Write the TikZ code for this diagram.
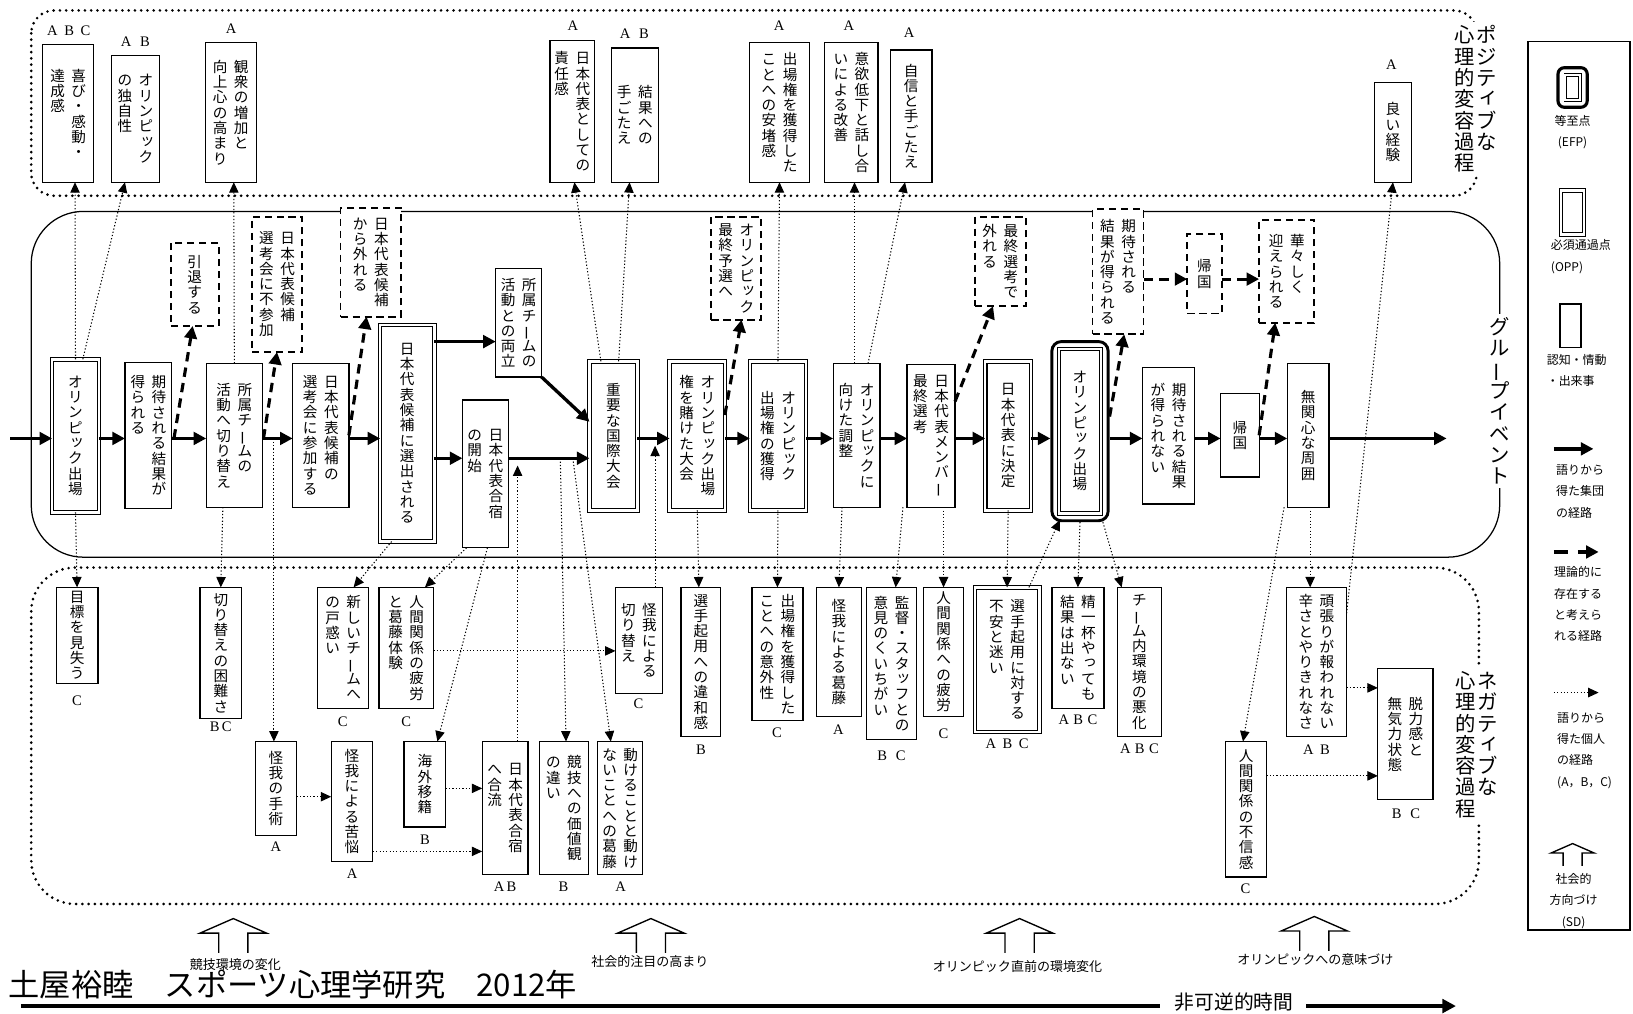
\documentclass[tikz,border=0pt]{standalone}
\usepackage{fontspec}
\usepackage{graphicx}
\setmainfont{Liberation Serif}
\newfontfamily\jp{Noto Sans CJK JP}
\usetikzlibrary{arrows.meta}
\ExplSyntaxOn
\seq_new:N \l_vj_cols_seq
\cs_new_protected:Npn \vj_small:n #1
  { \hbox_to_wd:nn {1em}{ \hss \kern0.2em \raisebox{0.14em}{#1} \hss } }
\cs_new_protected:Npn \vj_char:n #1
  {
    \str_case:nnF {#1}
      {
        {ー}{ \hbox_to_wd:nn {1em}{ \hss \rotatebox[origin=c]{90}{ー} \hss } }
        {ッ}{ \vj_small:n {#1} }
        {っ}{ \vj_small:n {#1} }
        {ャ}{ \vj_small:n {#1} }
        {ュ}{ \vj_small:n {#1} }
        {ョ}{ \vj_small:n {#1} }
        {ィ}{ \vj_small:n {#1} }
        {ゃ}{ \vj_small:n {#1} }
      }
      { \hbox_to_wd:nn {1em}{ \hss #1 \hss } }
  }
\cs_new_protected:Npn \vj_col:n #1
  {
    \vtop{ \baselineskip=1.05em \lineskiplimit=-100pt \lineskip=0pt
      \tl_map_inline:nn {#1}{ \vj_char:n {##1} } }
  }
\NewDocumentCommand \vt { O{0.45em} m }
  {
    \hbox:n
      {
        \jp
        \seq_set_split:Nnn \l_vj_cols_seq { \\ } {#2}
        \seq_reverse:N \l_vj_cols_seq
        \seq_map_indexed_inline:Nn \l_vj_cols_seq
          {
            \int_compare:nNnT {##1} > {1} { \skip_horizontal:n {#1} }
            \vj_col:n {##2}
          }
      }
  }
\ExplSyntaxOff
\newcommand\bx[7]{\node[#2, minimum width={(#5-#3)*1pt}, minimum height={(#6-#4)*1pt}] (#1) at ({(#3+#5)/2},{(#4+#6)/2}) {\vt{#7}};}
\tikzset{
  box/.style={draw, line width=1.2pt, fill=white, inner sep=0pt, outer sep=0pt, font=\fontsize{14}{18.5}\selectfont},
  opp/.style={box, double, double distance=2.4pt, line width=1pt},
  tbox/.style={box, dash pattern=on 7pt off 4.5pt, line width=1.8pt},
  efp/.style={draw, line width=2.8pt, rounded corners=9pt, inner sep=0pt, fill=white},
  grp/.style={line width=3.2pt, -{Triangle[length=12pt,width=12pt]}},
  thr/.style={line width=3pt, dash pattern=on 9pt off 6pt, -{Triangle[length=12pt,width=12pt]}},
  ind/.style={line width=1pt, dash pattern=on 1.2pt off 2pt, -{Triangle[length=10pt,width=9pt]}},
  region/.style={line width=2.8pt, dash pattern=on 0pt off 6pt, line cap=round},
  band/.style={line width=1.2pt},
  abc/.style={font=\fontsize{14}{15}\selectfont, inner sep=0pt},
  sidelab/.style={fill=white, inner sep=3pt, font=\fontsize{19.5}{21}\selectfont},
  sdlab/.style={font=\jp\fontsize{12.5}{14}\selectfont, inner sep=0pt},
  legtxt/.style={font=\jp\fontsize{11.5}{20.5}\selectfont, inner sep=0pt},
  sdicon/.pic={\draw[line width=1.3pt] (-14,33) -- (-14,14) -- (-32,14) -- (0,0) -- (32,14) -- (14,14) -- (14,33);},
}
\begin{document}
\begin{tikzpicture}[x=1pt,y=-1pt]
\useasboundingbox (0,0) rectangle (1568,973);
% ---------------- regions
\draw[region, rounded corners=22pt] (30,10) rectangle (1418,188);
\draw[band, rounded corners=50pt] (30,203) rectangle (1440,535);
\draw[region, rounded corners=42pt] (30,545) rectangle (1420,868);
\node[sidelab] (poslab) at (1417,95) {\vt[0.08em]{ポジティブな\\心理的変容過程}};
\node[sidelab] (grplab) at (1440,385) {\vt{グループイベント}};
\node[sidelab] (neglab) at (1418,715) {\vt[0.08em]{ネガティブな\\心理的変容過程}};
% ---------------- top (positive) boxes
\bx{T1}{box}{41}{43}{90}{175}{喜び・感動・\\達成感}
\bx{T2}{box}{107}{53}{153}{175}{オリンピック\\の独自性}
\bx{T3}{box}{197}{41}{246}{175}{観衆の増加と\\向上心の高まり}
\bx{T4}{box}{528}{39}{571}{175}{日本代表としての\\責任感}
\bx{T5}{box}{587}{46}{632}{175}{結果への\\手ごたえ}
\bx{T6}{box}{720}{41}{777}{175}{出場権を獲得した\\ことへの安堵感}
\bx{T7}{box}{792}{41}{843}{175}{意欲低下と話し合\\いによる改善}
\bx{T8}{box}{855}{48}{895}{175}{自信と手ごたえ}
\bx{T9}{box}{1320}{79}{1355}{175}{良い経験}
\node[abc] (T1l) at (66,30) {A\hspace{0.45em}B\hspace{0.45em}C};
\node[abc] (T2l) at (130,40) {A\hspace{0.6em}B};
\node[abc] (T3l) at (222,28) {A};
\node[abc] (T4l) at (550,25) {A};
\node[abc] (T5l) at (609,32) {A\hspace{0.6em}B};
\node[abc] (T6l) at (748,25) {A};
\node[abc] (T7l) at (815,25) {A};
\node[abc] (T8l) at (873,31) {A};
\node[abc] (T9l) at (1336,62) {A};
% ---------------- main (group) boxes
\bx{M1}{opp}{50}{345}{95}{492}{オリンピック出場}
\bx{M2}{box}{120}{348}{165}{488}{期待される結果が\\得られる}
\bx{M3}{box}{198}{349}{252}{487}{所属チームの\\活動へ切り替え}
\bx{M4}{box}{281}{349}{335}{487}{日本代表候補の\\選考会に参加する}
\bx{M5}{opp}{365}{312}{417}{520}{日本代表候補に選出される}
\bx{M6}{box}{476}{258}{520}{362}{所属チームの\\活動との両立}
\bx{M7}{box}{444}{384}{488}{526}{日本代表合宿\\の開始}
\bx{M8}{opp}{566}{347}{612}{490}{重要な国際大会}
\bx{M9}{opp}{643}{347}{696}{490}{オリンピック出場\\権を賭けた大会}
\bx{M10}{opp}{720}{347}{774}{490}{オリンピック\\出場権の獲得}
\bx{M11}{box}{800}{349}{845}{487}{オリンピックに\\向けた調整}
\bx{M12}{box}{871}{350}{917}{487}{日本代表メンバー\\最終選考}
\bx{M13}{opp}{946}{347}{990}{490}{日本代表に決定}
\node[efp, minimum width=54pt, minimum height=172pt] (M14) at (1037,414) {};
\bx{M14i}{opp}{1017}{335}{1057}{493}{オリンピック出場}
\bx{M15}{box}{1097}{353}{1147}{484}{期待される結果\\が得られない}
\bx{M16}{box}{1172}{378}{1209}{458}{帰国}
\bx{M17}{box}{1236}{349}{1276}{487}{無関心な周囲}
% ---------------- theoretical (dashed) boxes
\bx{D1}{tbox}{164}{233}{210}{313}{引退する}
\bx{D2}{tbox}{242}{208}{290}{338}{日本代表候補\\選考会に不参加}
\bx{D3}{tbox}{327}{200}{385}{304}{日本代表候補\\から外れる}
\bx{D4}{tbox}{683}{208}{731}{307}{オリンピック\\最終予選へ}
\bx{D5}{tbox}{936}{208}{985}{294}{最終選考で\\外れる}
\bx{D6}{tbox}{1049}{201}{1098}{321}{期待される\\結果が得られる}
\bx{D7}{tbox}{1140}{225}{1173}{301}{帰国}
\bx{D8}{tbox}{1209}{211}{1262}{310}{華々しく\\迎えられる}
% ---------------- bottom (negative) boxes
\bx{B1}{box}{54}{564}{94}{656}{目標を見失う}
\bx{B2}{box}{192}{564}{232}{690}{切り替えの困難さ}
\bx{B3}{box}{245}{712}{285}{802}{怪我の手術}
\bx{B4}{box}{305}{564}{354}{680}{新しいチームへ\\の戸惑い}
\bx{B5}{box}{364}{564}{416}{680}{人間関係の疲労\\と葛藤体験}
\bx{B6}{box}{388}{712}{428}{794}{海外移籍}
\bx{B7}{box}{463}{712}{507}{840}{日本代表合宿\\へ合流}
\bx{B8}{box}{318}{712}{358}{827}{怪我による苦悩}
\bx{B9}{box}{518}{712}{565}{840}{競技への価値観\\の違い}
\bx{B10}{box}{574}{712}{617}{840}{動けることと動け\\ないことへの葛藤}
\bx{B11}{box}{591}{564}{636}{666}{怪我による\\切り替え}
\bx{B12}{box}{654}{564}{692}{707}{選手起用への違和感}
\bx{B13}{box}{722}{564}{771}{692}{出場権を獲得した\\ことへの意外性}
\bx{B14}{box}{784}{564}{827}{688}{怪我による葛藤}
\bx{B15}{box}{832}{564}{880}{710}{監督・スタッフとの\\意見のくいちがい}
\bx{B16}{box}{887}{564}{925}{688}{人間関係への疲労}
\bx{B17}{opp}{936}{564}{998}{703}{選手起用に対する\\不安と迷い}
\bx{B18}{box}{1010}{564}{1060}{680}{精一杯やっても\\結果は出ない}
\bx{B19}{box}{1073}{564}{1115}{707}{チーム内環境の悪化}
\bx{B20}{box}{1177}{712}{1216}{842}{人間関係の不信感}
\bx{B21}{box}{1235}{564}{1293}{707}{頑張りが報われない\\辛さとやりきれなさ}
\bx{B22}{box}{1323}{642}{1376}{768}{脱力感と\\無気力状態}
\node[abc] (B1l) at (74,673) {C};
\node[abc] (B2l) at (212,698) {B\,C};
\node[abc] (B3l) at (265,813) {A};
\node[abc] (B4l) at (329,693) {C};
\node[abc] (B5l) at (390,693) {C};
\node[abc] (B6l) at (408,806) {B};
\node[abc] (B7l) at (485,851) {A\,B};
\node[abc] (B8l) at (338,839) {A};
\node[abc] (B9l) at (541,851) {B};
\node[abc] (B10l) at (596,851) {A};
\node[abc] (B11l) at (613,676) {C};
\node[abc] (B12l) at (673,720) {B};
\node[abc] (B13l) at (746,704) {C};
\node[abc] (B14l) at (805,701) {A};
\node[abc] (B15l) at (856,726) {B\hspace{0.6em}C};
\node[abc] (B16l) at (906,705) {C};
\node[abc] (B17l) at (967,714) {A\hspace{0.45em}B\hspace{0.45em}C};
\node[abc] (B18l) at (1035,691) {A\hspace{0.3em}B\hspace{0.3em}C};
\node[abc] (B19l) at (1094,719) {A\hspace{0.3em}B\hspace{0.3em}C};
\node[abc] (B20l) at (1196,853) {C};
\node[abc] (B21l) at (1264,720) {A\hspace{0.45em}B};
\node[abc] (B22l) at (1350,781) {B\hspace{0.6em}C};
% ---------------- group paths
\coordinate (ml) at (0,421);
\coordinate (st) at (10,421);
\coordinate (en) at (1389,421);
\draw[grp] (st) -- (M1.west |- ml);
\draw[grp] (M1.east |- ml) -- (M2.west |- ml);
\draw[grp] (M2.east |- ml) -- (M3.west |- ml);
\draw[grp] (M3.east |- ml) -- (M4.west |- ml);
\draw[grp] (M4.east |- ml) -- (M5.west |- ml);
\coordinate (m56) at (0,328);
\draw[grp] (M5.east |- m56) -- (M6.west |- m56);
\coordinate (m57) at (0,440);
\draw[grp] (M5.east |- m57) -- (M7.west |- m57);
\draw[grp] (M7.east |- m57) -- (M8.west |- m57);
\coordinate (m68) at (0,405);
\draw[grp] (M6.south east) -- (M8.west |- m68);
\draw[grp] (M8.east |- ml) -- (M9.west |- ml);
\draw[grp] (M9.east |- ml) -- (M10.west |- ml);
\draw[grp] (M10.east |- ml) -- (M11.west |- ml);
\draw[grp] (M11.east |- ml) -- (M12.west |- ml);
\draw[grp] (M12.east |- ml) -- (M13.west |- ml);
\draw[grp] (M13.east |- ml) -- (M14.west |- ml);
\draw[grp] (M14.east |- ml) -- (M15.west |- ml);
\draw[grp] (M15.east |- ml) -- (M16.west |- ml);
\draw[grp] (M16.east |- ml) -- (M17.west |- ml);
\draw[grp] (M17.east |- ml) -- (en);
% ---------------- theoretical paths
\coordinate (c1) at (167,421);
\draw[thr] (c1) -- ([xshift=-2pt]D1.south);
\coordinate (c2) at (253,421);
\draw[thr] (c2) -- (D2.south);
\draw[thr] (M4.east) -- ([xshift=-4pt]D3.south);
\draw[thr] ([yshift=20pt]M9.east) -- ([xshift=5pt]D4.south);
\draw[thr] ([yshift=33pt]M12.east) -- ([xshift=-7pt]D5.south);
\draw[thr] ([yshift=14pt]M14.east) -- ([xshift=6pt]D6.south);
\coordinate (k67) at ([yshift=-7pt]D6.east);
\draw[thr] (k67) -- (k67 -| D7.west);
\coordinate (k78) at ([yshift=-5pt]D7.east);
\draw[thr] (k78) -- (k78 -| D8.west);
\draw[thr] (M16.east) -- ([xshift=-11pt]D8.south);
% ---------------- individual paths (positive)
\draw[ind] (M1.north) -- ([xshift=6.5pt]T1.south);
\draw[ind] ([xshift=7pt]M1.north) -- ([xshift=-10pt]T2.south);
\draw[ind] (M3.north) -- ([xshift=3pt]T3.south);
\draw[ind] ([xshift=-12pt]M8.north) -- ([xshift=2pt]T4.south);
\draw[ind] ([xshift=5pt]M8.north) -- ([xshift=-5pt]T5.south);
\draw[ind] (M10.north) -- (T6.south);
\draw[ind] ([xshift=-2pt]M11.north) -- ([xshift=3pt]T7.south);
\draw[ind] ([xshift=11pt]M11.north) -- ([xshift=-6pt]T8.south);
\draw[ind] ([yshift=-25pt]B21.north east) -- (T9.south);
% ---------------- individual paths (negative)
\draw[ind] (M1.south) -- (B1.north);
\draw[ind] ([xshift=-11pt]M3.south) -- (B2.north);
\coordinate (c3) at (263,421);
\draw[ind] (c3) -- (c3 |- B3.north);
\draw[ind] ([xshift=-15pt]M5.south) -- ([xshift=10pt]B4.north);
\draw[ind] ([xshift=-18pt]M7.south) -- ([xshift=18pt]B5.north);
\draw[ind] ([xshift=2pt]M7.south) -- ([xshift=12pt]B6.north);
\coordinate (k38) at ([yshift=-8pt]B3.east);
\draw[ind] (k38) -- (k38 -| B8.west);
\coordinate (k6b) at ([yshift=-4pt]B6.east);
\draw[ind] (k6b) -- (k6b -| B7.west);
\coordinate (k87) at ([yshift=-48pt]B8.east);
\draw[ind] (k87) -- (k87 -| B7.west);
\coordinate (j2) at (497,447);
\draw[ind] (j2 |- B7.north) -- (j2);
\coordinate (c9) at (538,440);
\draw[ind] (c9) -- ([xshift=2pt]B9.north);
\coordinate (c10) at (550,440);
\draw[ind] (c10) -- ([xshift=-9pt]B10.north);
\coordinate (k511) at ([yshift=-3pt]B5.east);
\draw[ind] (k511) -- (k511 -| B11.west);
\coordinate (j1) at (629,428);
\draw[ind] (j1 |- B11.north) -- (j1);
\draw[ind] (M9.south) -- ([xshift=-2pt]B12.north);
\draw[ind] (M10.south) -- (B13.north);
\draw[ind] ([xshift=-14pt]M11.south) -- (B14.north);
\draw[ind] ([xshift=-27pt]M12.south) -- ([xshift=4pt]B15.north);
\draw[ind] ([xshift=12pt]M12.south) -- (B16.north);
\draw[ind] (M13.south) -- (B17.north);
\draw[ind] ([xshift=21pt]B17.north) -- ([xshift=9pt,yshift=2pt]M14.south west);
\draw[ind] (M14.south) -- (B18.north);
\draw[ind] ([xshift=22pt]M14.south) -- ([xshift=4pt]B19.north west);
\draw[ind] ([xshift=-23pt]M17.south) -- ([xshift=-3pt]B20.north);
\draw[ind] ([xshift=2pt]M17.south) -- ([xshift=-6pt]B21.north);
\coordinate (k2122) at ([yshift=-25pt]B21.east);
\draw[ind] (k2122) -- (k2122 -| B22.west);
\coordinate (k2022) at ([yshift=32pt]B20.east);
\draw[ind] (k2022) -- (k2022 -| B22.west);
% ---------------- social direction (footer)
\pic (sd1) at (224,882) {sdicon};
\pic (sd2) at (625,882) {sdicon};
\pic (sd3) at (979,882) {sdicon};
\pic (sd4) at (1262,880) {sdicon};
\node[sdlab] (sdl1) at (226,926) {競技環境の変化};
\node[sdlab] (sdl2) at (624,923) {社会的注目の高まり};
\node[sdlab] (sdl3) at (977,928) {オリンピック直前の環境変化};
\node[sdlab] (sdl4) at (1263,921) {オリンピックへの意味づけ};
\node[font=\jp\fontsize{30}{31}\selectfont, anchor=west, inner sep=0pt] (auth) at (8,945) {土屋裕睦　スポーツ心理学研究　2012年};
% ---------------- irreversible time
\node[font=\jp\fontsize{19}{20}\selectfont, inner sep=0pt] (tl) at (1185,962) {非可逆的時間};
\coordinate (tl0) at (20,966);
\coordinate (tl1) at (1398,966);
\coordinate (tlw) at ([xshift=-14pt]tl.west);
\coordinate (tle) at ([xshift=12pt]tl.east);
\draw[line width=3.6pt] (tl0) -- (tlw |- tl0);
\draw[line width=3.2pt, -{Triangle[length=13pt,width=13pt]}] (tle |- tl0) -- (tl1);
% ---------------- legend
\node[draw, line width=1.3pt, minimum width=98pt, minimum height=853pt, inner sep=0pt] (legend) at (1516,466.5) {};
\node[efp, line width=3pt, rounded corners=6pt, minimum width=28pt, minimum height=38pt] (lg1) at (1510,84) {};
\node[opp, line width=0.9pt, double distance=1.6pt, minimum width=14pt, minimum height=24pt] (lg1i) at (1510,84) {};
\node[legtxt, align=center] (lg1t) at (1510,127) {等至点\\(EFP)};
\node[opp, minimum width=22pt, minimum height=42pt] (lg2) at (1510,204) {};
\node[legtxt, align=left, anchor=north west] (lg2t) at (1489,230) {必須通過点\\(OPP)};
\node[box, minimum width=20pt, minimum height=42pt] (lg3) at (1508,313) {};
\node[legtxt, align=left, anchor=north west] (lg3t) at (1485,340) {認知・情動\\・出来事};
\coordinate (lg4a) at (1492,431);
\coordinate (lg4b) at (1530,431);
\draw[grp] (lg4a) -- (lg4b);
\node[legtxt, align=left, anchor=north west] (lg4t) at (1494,446) {語りから\\得た集団\\の経路};
\coordinate (lg5a) at (1492,530);
\coordinate (lg5b) at (1535,530);
\draw[thr, dash pattern=on 14pt off 9pt] (lg5a) -- (lg5b);
\node[legtxt, align=left, anchor=north west] (lg5t) at (1492,544) {理論的に\\存在する\\と考えら\\れる経路};
\coordinate (lg6a) at (1492,665);
\coordinate (lg6b) at (1535,665);
\draw[ind] (lg6a) -- (lg6b);
\node[legtxt, align=left, anchor=north west] (lg6t) at (1495,684) {語りから\\得た個人\\の経路\\(A，B，C)};
\pic[scale=0.65] (lgsd) at (1510,810) {sdicon};
\node[legtxt, align=center] (lg7t) at (1511,865) {社会的\\方向づけ\\(SD)};
\end{tikzpicture}
\end{document}
